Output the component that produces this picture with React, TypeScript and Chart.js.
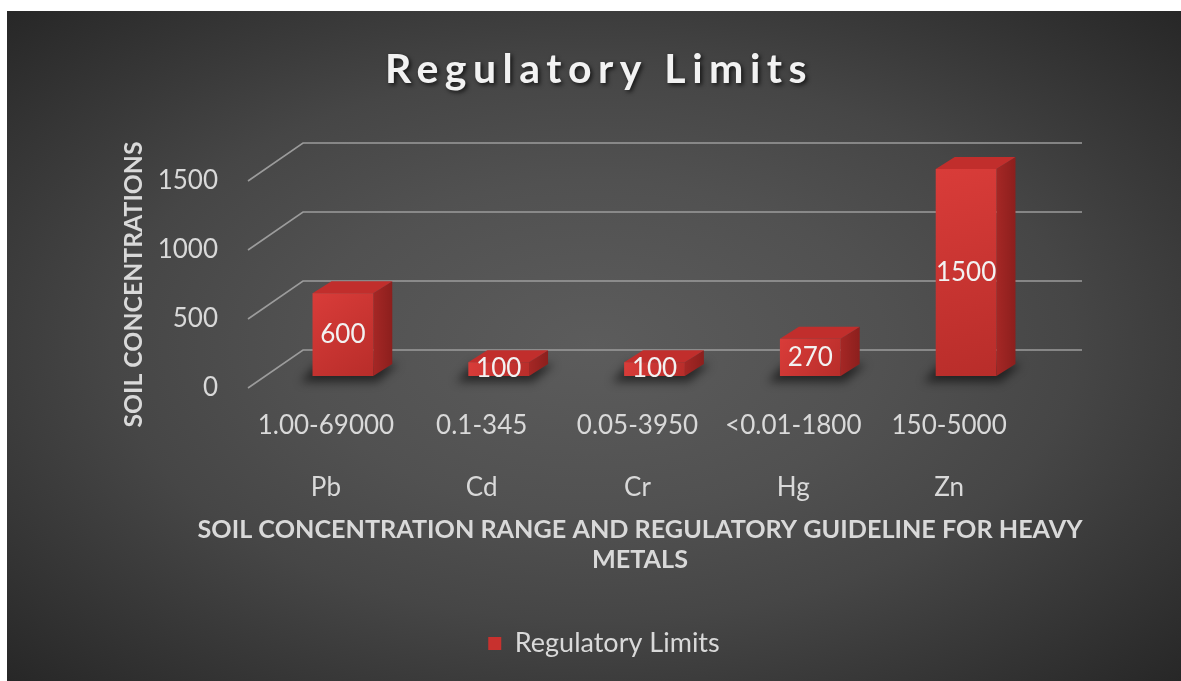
import React, { useEffect, useRef } from 'react';
import { Chart, registerables } from 'chart.js';

Chart.register(...registerables);

// ---- data ----
const concentrationRanges = ['1.00-69000', '0.1-345', '0.05-3950', '<0.01-1800', '150-5000'];
const metals = ['Pb', 'Cd', 'Cr', 'Hg', 'Zn'];
const regulatoryLimits = [600, 100, 100, 270, 1500];
const yTickValues = [0, 500, 1000, 1500];
const chartTitle = 'Regulatory Limits';
const seriesName = 'Regulatory Limits';
const yAxisTitle = 'SOIL CONCENTRATIONS';
const xAxisTitle = ['SOIL CONCENTRATION RANGE AND REGULATORY GUIDELINE FOR HEAVY', 'METALS'];

// ---- style ----
const FONT = 'Lato, "Open Sans", sans-serif';
const TEXT = '#d9d9d9';
const W = 1174;
const H = 670;
const WALL_DX = 55;
const WALL_DY = -38;
const BAR_DX = 17;
const BAR_DY = -12;
const DEPTH_DX = 19;
const DEPTH_DY = -12;

const threeDPlugin = {
  id: 'threeD',
  beforeDatasetsDraw(chart: any) {
    const { ctx, chartArea, scales } = chart;
    const y = scales.y;
    ctx.save();
    ctx.strokeStyle = 'rgba(160,160,160,0.95)';
    ctx.lineWidth = 1.6;
    y.ticks.forEach((t: any) => {
      const py = y.getPixelForValue(t.value);
      ctx.beginPath();
      ctx.moveTo(chartArea.left, py);
      ctx.lineTo(chartArea.left + WALL_DX, py + WALL_DY);
      ctx.lineTo(chartArea.right + WALL_DX, py + WALL_DY);
      ctx.stroke();
    });
    ctx.restore();
  },
  beforeDatasetDraw() {
    return false;
  },
  afterDatasetsDraw(chart: any) {
    const { ctx } = chart;
    const meta = chart.getDatasetMeta(0);
    const values = chart.data.datasets[0].data;
    meta.data.forEach((bar: any, i: number) => {
      const w = bar.width;
      const cx = bar.x + BAR_DX;
      const l = cx - w / 2;
      const r = cx + w / 2;
      const t = bar.y + BAR_DY;
      const b = bar.base + BAR_DY;
      // shadow
      ctx.save();
      ctx.filter = 'blur(5px)';
      ctx.fillStyle = 'rgba(0,0,0,0.55)';
      ctx.beginPath();
      ctx.moveTo(l - 12, b + 6);
      ctx.lineTo(r + 4, b + 6);
      ctx.lineTo(r + DEPTH_DX + 6, b + DEPTH_DY);
      ctx.lineTo(l + 4, b + DEPTH_DY);
      ctx.closePath();
      ctx.fill();
      ctx.restore();

      ctx.save();
      // side face
      const sg = ctx.createLinearGradient(r, 0, r + DEPTH_DX, 0);
      sg.addColorStop(0, '#a52725');
      sg.addColorStop(1, '#8c1f1d');
      ctx.fillStyle = sg;
      ctx.beginPath();
      ctx.moveTo(r, t);
      ctx.lineTo(r + DEPTH_DX, t + DEPTH_DY);
      ctx.lineTo(r + DEPTH_DX, b + DEPTH_DY);
      ctx.lineTo(r, b);
      ctx.closePath();
      ctx.fill();
      // top face
      ctx.fillStyle = '#c12e2c';
      ctx.beginPath();
      ctx.moveTo(l, t);
      ctx.lineTo(l + DEPTH_DX, t + DEPTH_DY);
      ctx.lineTo(r + DEPTH_DX, t + DEPTH_DY);
      ctx.lineTo(r, t);
      ctx.closePath();
      ctx.fill();
      // front face
      const fg = ctx.createLinearGradient(l, t, r, b);
      fg.addColorStop(0, '#d93c39');
      fg.addColorStop(1, '#b82d2a');
      ctx.fillStyle = fg;
      ctx.fillRect(l, t, w, b - t);
      // value label
      ctx.fillStyle = '#f2f2f2';
      ctx.font = `26px ${FONT}`;
      ctx.textAlign = 'center';
      ctx.textBaseline = 'middle';
      ctx.fillText(String(values[i]), cx, (t + b) / 2);
      ctx.restore();
    });
  },
  afterDraw(chart: any) {
    const { ctx } = chart;
    // chart title
    ctx.save();
    ctx.font = `bold 41px ${FONT}`;
    (ctx as any).letterSpacing = '6.5px';
    ctx.textAlign = 'center';
    ctx.textBaseline = 'alphabetic';
    ctx.shadowColor = 'rgba(0,0,0,0.7)';
    ctx.shadowBlur = 4;
    ctx.shadowOffsetX = 2;
    ctx.shadowOffsetY = 2;
    ctx.fillStyle = '#f2f2f2';
    ctx.fillText(chartTitle, 592, 72);
    (ctx as any).letterSpacing = '0px';
    ctx.restore();
    // x axis title (wider than the plot area, so drawn without squeezing)
    ctx.save();
    ctx.font = `bold 25.2px ${FONT}`;
    ctx.fillStyle = TEXT;
    ctx.textAlign = 'center';
    ctx.textBaseline = 'middle';
    xAxisTitle.forEach((line, i) => ctx.fillText(line, 633, 519 + i * 30));
    ctx.restore();
  },
};

export default function App() {
  const ref = useRef<HTMLCanvasElement>(null);
  useEffect(() => {
    const canvas = ref.current!;
    const labels = concentrationRanges.map((r, i) => [r, '', metals[i]]);
    const chart = new Chart(canvas, {
      type: 'bar',
      data: {
        labels,
        datasets: [
          {
            label: seriesName,
            data: regulatoryLimits,
            backgroundColor: '#c8312e',
            borderWidth: 0,
            barPercentage: 0.39,
            categoryPercentage: 1,
          },
        ],
      },
      options: {
        responsive: false,
        animation: false,
        events: [],
        layout: { padding: { top: 170, left: 20, right: 0, bottom: 14 } },
        plugins: {
          title: { display: false },
          tooltip: { enabled: false },
          legend: {
            position: 'bottom',
            labels: {
              color: TEXT,
              font: { family: FONT, size: 27 },
              boxWidth: 13,
              boxHeight: 13,
              padding: 10,
            },
          },
        },
        scales: {
          x: {
            grid: { display: false },
            border: { display: false },
            ticks: {
              color: TEXT,
              font: { family: FONT, size: 26, lineHeight: 31 / 26 },
              padding: 14,
              maxRotation: 0,
              autoSkip: false,
            },
            title: { display: false },
            afterFit: (s: any) => {
              s.height = 232;
            },
          },
          y: {
            min: 0,
            max: 1500,
            grid: { display: false },
            border: { display: false },
            afterBuildTicks: (s: any) => {
              s.ticks = yTickValues.map((v) => ({ value: v }));
            },
            ticks: {
              color: TEXT,
              font: { family: FONT, size: 26 },
              padding: 22,
              callback: (v: any) => String(v),
            },
            title: {
              display: true,
              text: yAxisTitle,
              color: TEXT,
              font: { family: FONT, size: 24.8, weight: 'bold', lineHeight: 1.2 },
              padding: { top: 92, bottom: 0 },
            },
            afterFit: (s: any) => {
              s.width = 221;
            },
          },
          y2: {
            type: 'linear',
            position: 'right',
            display: true,
            grid: { display: false },
            border: { display: false },
            ticks: { display: false },
            afterFit: (s: any) => {
              s.width = 154;
            },
          },
        },
      } as any,
      plugins: [threeDPlugin],
    });
    return () => chart.destroy();
  }, []);

  return (
    <div
      style={{
        position: 'absolute',
        left: 7,
        top: 11,
        width: W,
        height: H,
        background:
          'radial-gradient(ellipse farthest-corner at 50% 50%, #5c5c5c 0%, #515151 35%, #464646 58%, #3a3a3a 74%, #272727 100%)',
      }}
    >
      <canvas ref={ref} width={W} height={H} style={{ display: 'block', width: W, height: H }} />
    </div>
  );
}
